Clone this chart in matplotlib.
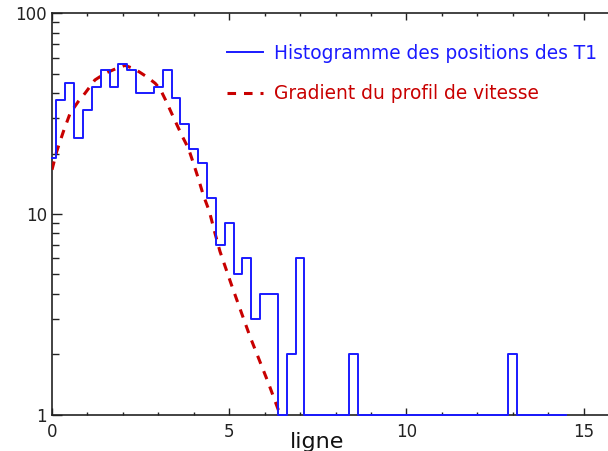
import numpy as np
import matplotlib
matplotlib.use("Agg")
import matplotlib.pyplot as plt
from matplotlib.ticker import MultipleLocator, LogLocator, NullFormatter

# histogramme : centres de classes tous les 0.25, comptes par classe
bin_step = 0.25
counts = [19, 37, 45, 24, 33, 43, 52, 43, 56, 52,
          40, 40, 43, 52, 38, 28, 21, 18, 12, 7,
          9, 5, 6, 3, 4, 4, 0, 2, 6, 0,
          0, 0, 0, 0, 2, 0, 0, 0, 0, 0,
          0, 0, 0, 0, 0, 0, 0, 0, 0, 0,
          0, 0, 2, 0, 0, 0, 0, 0, 0]
centres = np.arange(len(counts)) * bin_step

# gradient du profil de vitesse (courbe pointillee)
grad_x = [0.0, 0.13, 0.32, 0.51, 0.74, 0.93, 1.21, 1.50, 1.83, 2.06,
          2.34, 2.67, 2.91, 3.05, 3.22, 3.42, 3.66, 3.85, 3.99, 4.13,
          4.27, 4.44, 4.60, 4.74, 5.07, 5.35, 5.59, 5.87, 6.11, 6.39, 6.5]
grad_y = [16.6, 20.4, 25.7, 31.7, 36.3, 39.9, 46.5, 50.2, 53.2, 55.0,
          52.7, 48.3, 44.8, 42.0, 36.5, 30.5, 24.7, 21.2, 17.9, 15.0,
          12.4, 10.3, 8.0, 6.5, 4.4, 3.2, 2.44, 1.83, 1.43, 1.05, 0.92]

BLEU = "#1a1aff"
ROUGE = "#c80000"

fig = plt.figure(figsize=(6.08, 4.51), dpi=100)
W, H = 608, 451
x0, x1, y0, y1 = 52, 619, 13.3, 414.5   # cadre du trace en pixels
ax = fig.add_axes([x0 / W, (H - y1) / H, (x1 - x0) / W, (y1 - y0) / H])

# les classes vides sont posees sur le bas de l'axe (echelle log)
ax.step(centres, np.maximum(counts, 1), where="mid", color=BLEU, lw=1.4,
        zorder=3, clip_on=False, label="Histogramme des positions des T1")
ax.plot(grad_x, grad_y, color=ROUGE, lw=2.2, dashes=(2.8, 2.6),
        zorder=2.8, label="Gradient du profil de vitesse")

ax.set_yscale("log")
ax.set_xlim(0, 16)
ax.set_ylim(1, 100)

ax.set_xticks([0, 5, 10, 15])
ax.xaxis.set_minor_locator(MultipleLocator(1))
ax.set_yticks([1, 10, 100], labels=["1", "10", "100"])
ax.yaxis.set_minor_locator(LogLocator(base=10, subs=np.arange(2, 10)))
ax.yaxis.set_minor_formatter(NullFormatter())

ax.tick_params(which="both", direction="in", top=True, right=True,
               labelsize=12, colors="#222222", width=1.0)
ax.tick_params(axis="x", which="major", length=4.8, pad=6)
ax.tick_params(axis="x", which="minor", length=2.4)
ax.tick_params(axis="y", which="major", length=7.2, pad=3.5)
ax.tick_params(axis="y", which="minor", length=4.8)
for sp in ax.spines.values():
    sp.set_color("#222222")
    sp.set_linewidth(1.2)

ax.set_xlabel("ligne", fontsize=16, color="#111111")
ax.xaxis.set_label_coords((316.7 - x0) / (x1 - x0), (y1 - 452) / (y1 - y0))
ax.xaxis.label.set_va("bottom")

ax.legend(loc="upper left", bbox_to_anchor=(227 / W, 1 - 44 / H),
          bbox_transform=fig.transFigure, frameon=False, fontsize=13.4,
          handlelength=1.95, handletextpad=0.55, labelspacing=1.15,
          borderpad=0, borderaxespad=0, labelcolor="linecolor")

fig.savefig("out.png", dpi=100)
